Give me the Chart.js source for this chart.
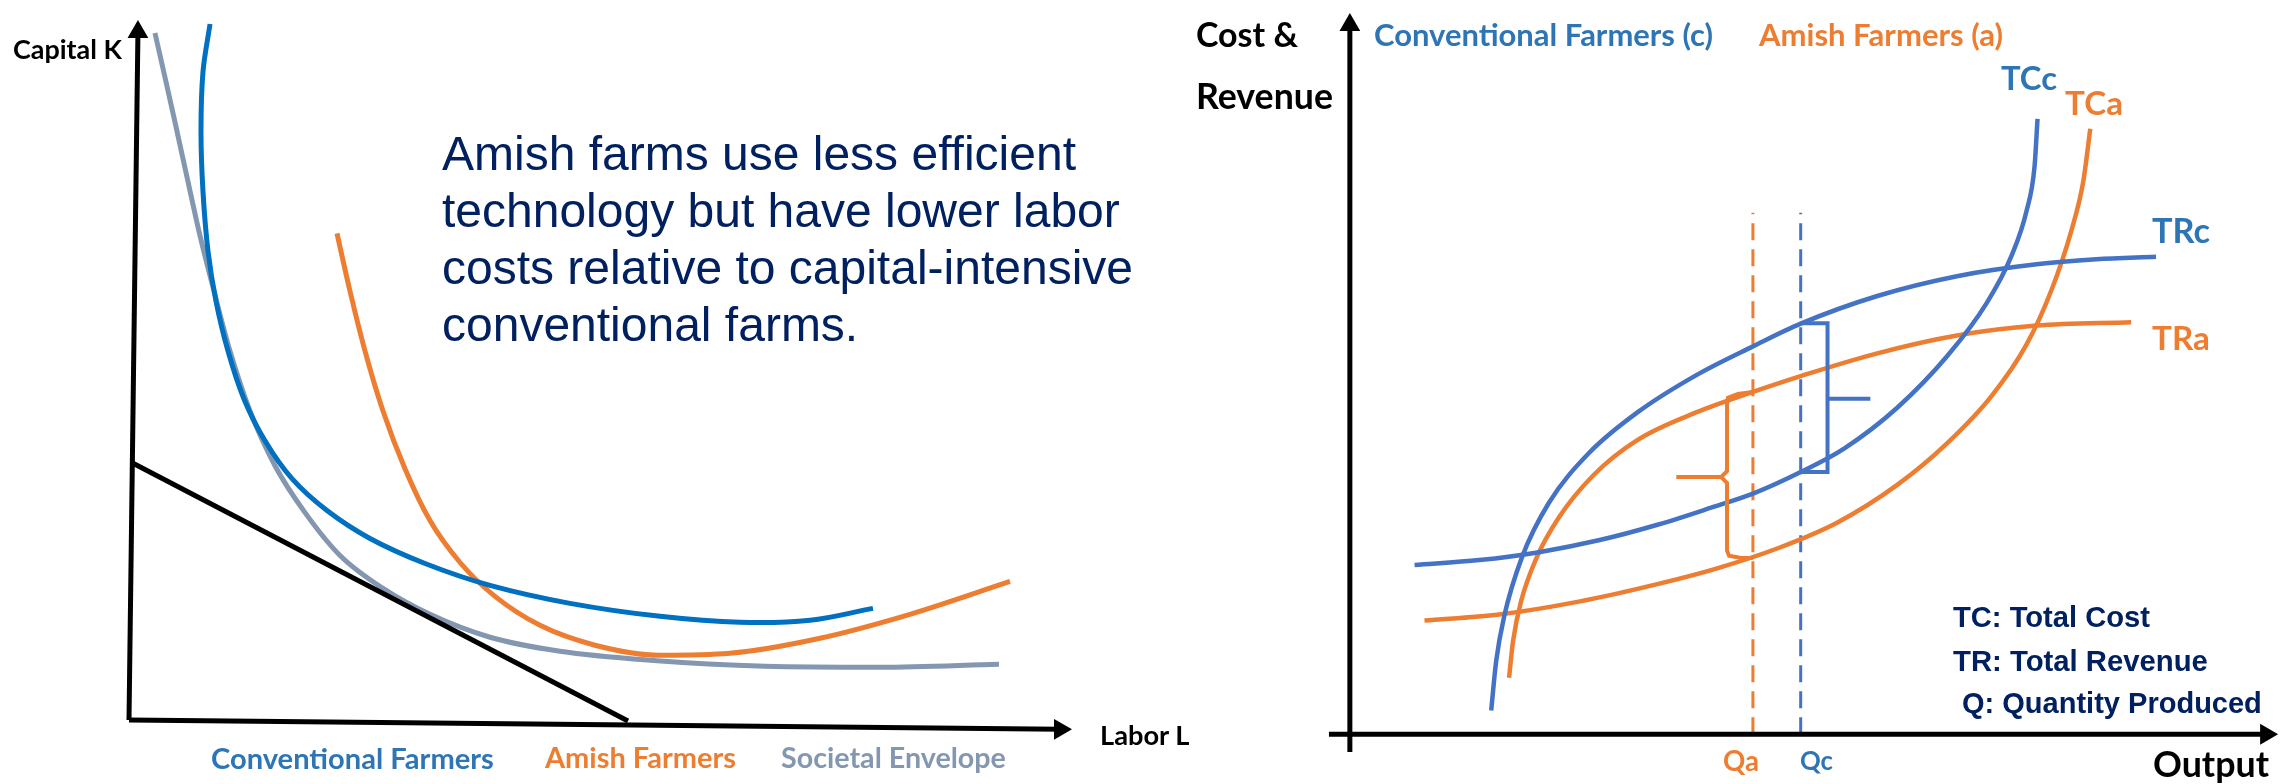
<!DOCTYPE html>
<html>
<head>
<meta charset="utf-8">
<script src="https://cdn.jsdelivr.net/npm/chart.js@4.4.1/dist/chart.umd.min.js"></script>
<style>
  html, body { margin: 0; padding: 0; background: #fff; }
  #stage { position: relative; width: 2292px; height: 784px; overflow: hidden; background: #fff; }
  #stage canvas { position: absolute; left: 0; top: 0; }
  .lbl { position: absolute; white-space: nowrap; line-height: 1; font-weight: 700; }
  .blurb { position: absolute; white-space: nowrap; font-family: "Liberation Sans", Arial, sans-serif;
           font-size: 48px; line-height: 57px; color: #002060; }
</style>
</head>
<body>
<div id="stage">
  <canvas id="isoChart" width="2292" height="784"></canvas>
  <canvas id="costChart" width="2292" height="784"></canvas>
</div>
<script>
// ---- left panel: isoquants (Labor L on x, Capital K on y), units 0..10
const isoConventional = [[0.852, 9.833], [0.778, 9.167], [0.757, 8.333], [0.778, 7.500], [0.831, 6.667],
  [0.915, 5.972], [1.041, 5.278], [1.209, 4.611], [1.430, 4.028], [1.714, 3.500], [2.082, 3.056],
  [2.534, 2.667], [3.113, 2.319], [3.796, 2.014], [4.637, 1.764], [5.584, 1.583], [6.425, 1.500],
  [7.161, 1.528], [7.823, 1.694]];
const isoSocietal = [[0.273, 9.708], [0.389, 9.028], [0.494, 8.403], [0.620, 7.639], [0.736, 6.944],
  [0.894, 6.111], [1.062, 5.278], [1.272, 4.444], [1.535, 3.681], [1.851, 3.028], [2.219, 2.431],
  [2.671, 1.972], [3.165, 1.611], [3.796, 1.292], [4.532, 1.097], [5.478, 0.972], [6.688, 0.889],
  [7.897, 0.875], [9.148, 0.917]];
const isoAmish = [[2.187, 6.917], [2.324, 6.111], [2.482, 5.278], [2.671, 4.444], [2.902, 3.639],
  [3.165, 2.917], [3.481, 2.333], [3.849, 1.861], [4.322, 1.458], [4.900, 1.181], [5.584, 1.042],
  [6.320, 1.069], [7.266, 1.278], [8.212, 1.611], [9.264, 2.069]];
const isoCostLine = [[0.032, 3.722], [5.247, 0.125]];
const isoAxisY = [[0, 0.139], [0.094, 9.72]];
const isoAxisX = [[0, 0.139], [9.79, 0.01]];

// ---- right panel: cost & revenue vs output, units 0..10
const trConventional = [[1.527, 0.329], [1.581, 1.014], [1.667, 1.630], [1.860, 2.452], [2.151, 3.205],
  [2.581, 3.890], [3.118, 4.466], [3.763, 4.986], [4.355, 5.370], [4.871, 5.685], [5.699, 6.068],
  [6.559, 6.342], [7.419, 6.507], [8.065, 6.575], [8.710, 6.610]];
const tcConventional = [[0.699, 2.342], [1.398, 2.411], [2.043, 2.521], [2.688, 2.685], [3.333, 2.904],
  [3.903, 3.137], [4.376, 3.342], [4.871, 3.630], [5.344, 3.959], [5.914, 4.521], [6.452, 5.233],
  [6.882, 5.973], [7.151, 6.630], [7.312, 7.247], [7.398, 7.863], [7.430, 8.521]];
const trAmish = [[1.720, 0.781], [1.763, 1.288], [1.849, 1.836], [2.011, 2.425], [2.258, 3.000],
  [2.634, 3.589], [3.118, 4.082], [3.763, 4.466], [4.355, 4.740], [4.871, 4.959], [5.699, 5.274],
  [6.559, 5.521], [7.419, 5.658], [8.441, 5.705]];
const tcAmish = [[0.806, 1.575], [1.613, 1.658], [2.473, 1.836], [3.333, 2.082], [3.978, 2.301],
  [4.624, 2.575], [5.269, 2.932], [5.914, 3.452], [6.452, 4.027], [6.935, 4.685], [7.312, 5.397],
  [7.581, 6.151], [7.796, 6.973], [7.925, 7.658], [8.000, 8.384]];
const qAmish = [[4.355, 0], [4.355, 7.219]];
const qConventional = [[4.871, 0], [4.871, 7.219]];
const profitBracketC = [[4.871, 5.692], [5.161, 5.692], [5.161, 3.630], [4.871, 3.630]];
const profitTickC = [[5.161, 4.644], [5.624, 4.644]];
const profitBraceA = [[4.355, 4.740], [4.194, 4.712], [4.086, 4.658], [4.075, 4.575], [4.075, 3.644],
  [4.011, 3.562], [4.075, 3.479], [4.075, 2.541], [4.097, 2.472], [4.215, 2.445], [4.355, 2.440]];
const profitTickA = [[4.011, 3.562], [3.527, 3.562]];
const costAxisY = [[0, -0.247], [0, 9.82]];
const costAxisX = [[-0.226, 0], [9.90, 0]];

// ---- text
const isoAxisNames = ['Capital K', 'Labor L'];
const isoLegend = ['Conventional Farmers', 'Amish Farmers', 'Societal Envelope'];
const blurbLines = ['Amish farms use less efficient', 'technology but have lower labor',
  'costs relative to capital-intensive', 'conventional farms.'];
const costAxisNames = ['Cost &', 'Revenue', 'Output'];
const costLegend = ['Conventional Farmers (c)', 'Amish Farmers (a)'];
const curveNames = ['TCc', 'TCa', 'TRc', 'TRa'];
const qNames = ['Qa', 'Qc'];
const notes = ['TC: Total Cost', 'TR: Total Revenue', 'Q: Quantity Produced'];

const BLUE_L = '#0070C0', BLUE_R = '#4472C4', BLUE_T = '#2E75B6';
const ORANGE = '#ED7D31', GREY = '#8497B0', NAVY = '#002060';
const W = 2292, H = 784;

function pts(arr) { return arr.map(([x, y]) => ({ x, y })); }

// smooth curve; x-monotone ones use monotone cubic, the rest a plain tension spline
function curve(arr, color, width, monotone) {
  const ds = { data: pts(arr), borderColor: color, borderWidth: width, pointRadius: 0,
               fill: false, clip: false, borderCapStyle: 'butt' };
  if (monotone) ds.cubicInterpolationMode = 'monotone';
  else ds.tension = 0.35;
  return ds;
}
function straight(arr, color, width, dash) {
  return { data: pts(arr), borderColor: color, borderWidth: width, pointRadius: 0,
           tension: 0, fill: false, clip: false, borderDash: dash || [],
           borderJoinStyle: 'miter' };
}
function axis(arr, rot) {
  const last = arr.length - 1;
  return { data: pts(arr), borderColor: '#000', borderWidth: 5, tension: 0, fill: false, clip: false,
           pointStyle: 'triangle', pointRotation: rot, pointBorderWidth: 0,
           pointBackgroundColor: '#000', pointRadius: c => c.dataIndex === last ? 12 : 0 };
}

// origin pixel + pixels per unit -> padding so the hidden scales land there
function frame(ox, oy, ux, uy, xMin, xMax, yMin, yMax) {
  const left = ox + xMin * ux, right = ox + xMax * ux;
  const top = oy - yMax * uy, bottom = oy - yMin * uy;
  return {
    padding: { left: left, right: W - right, top: top, bottom: H - bottom },
    scales: {
      x: { type: 'linear', min: xMin, max: xMax, display: false },
      y: { type: 'linear', min: yMin, max: yMax, display: false }
    }
  };
}

function makeChart(id, datasets, f) {
  return new Chart(document.getElementById(id), {
    type: 'line',
    data: { datasets: datasets },
    options: {
      responsive: false, animation: false, events: [],
      layout: { padding: f.padding },
      scales: f.scales,
      plugins: { legend: { display: false }, tooltip: { enabled: false } }
    }
  });
}

makeChart('isoChart', [
  axis(isoAxisY, 0),
  axis(isoAxisX, 90),
  straight(isoCostLine, '#000', 5),
  curve(isoConventional, BLUE_L, 5, false),
  curve(isoAmish, ORANGE, 5, true),
  curve(isoSocietal, GREY, 5, true)
], frame(129, 730, 95.1, 72, 0, 10, 0, 10));

makeChart('costChart', [
  axis(costAxisY, 0),
  axis(costAxisX, 90),
  straight(profitBracketC, BLUE_R, 4),
  straight(profitTickC, BLUE_R, 4),
  straight(profitBraceA, ORANGE, 4),
  straight(profitTickA, ORANGE, 4),
  curve(trConventional, BLUE_R, 4.5, true),
  curve(tcConventional, BLUE_R, 4.5, true),
  curve(trAmish, ORANGE, 4.5, true),
  curve(tcAmish, ORANGE, 4.5, true),
  straight(qAmish, ORANGE, 3, [17, 9]),
  straight(qConventional, BLUE_R, 3, [17, 9])
], frame(1350, 734, 93, 73, -0.3, 10.05, -0.3, 10));

// ---- labels as real text, font size fitted to the measured width
const stage = document.getElementById('stage');
const mctx = document.createElement('canvas').getContext('2d');
const FAM = { lato: 'Lato, "Open Sans", sans-serif', arial: '"Liberation Sans", Arial, sans-serif' };
const CAP_MID = { lato: 0.529, arial: 0.489 };

function label(text, x, w, cy, color, fam) {
  fam = fam || 'lato';
  mctx.font = '700 100px ' + FAM[fam];
  const size = 100 * w / mctx.measureText(text).width;
  const el = document.createElement('div');
  el.className = 'lbl';
  el.textContent = text;
  el.style.fontFamily = FAM[fam];
  el.style.fontSize = size.toFixed(2) + 'px';
  el.style.color = color;
  el.style.left = x + 'px';
  el.style.top = (cy - CAP_MID[fam] * size).toFixed(1) + 'px';
  stage.appendChild(el);
}

label(isoAxisNames[0], 13, 109, 50, '#000');
label(isoAxisNames[1], 1100, 90, 735, '#000');
label(isoLegend[0], 211, 283, 758, BLUE_T);
label(isoLegend[1], 545, 191, 758, ORANGE);
label(isoLegend[2], 781, 225, 758, GREY);

const blurb = document.createElement('div');
blurb.className = 'blurb';
blurb.innerHTML = blurbLines.join('<br>');
blurb.style.left = '442px';
blurb.style.top = '125px';
stage.appendChild(blurb);

label(costAxisNames[0], 1196, 102, 35, '#000');
label(costAxisNames[1], 1196, 137, 97, '#000');
label(costAxisNames[2], 2153, 116, 765, '#000');
label(costLegend[0], 1374, 339, 35, BLUE_T);
label(costLegend[1], 1759, 244, 35, ORANGE);
label(curveNames[0], 2001, 56, 79, BLUE_T);
label(curveNames[1], 2065, 58, 104, ORANGE);
label(curveNames[2], 2152, 58, 231, BLUE_T);
label(curveNames[3], 2152, 58, 339, ORANGE);
label(qNames[0], 1723, 36, 762, ORANGE);
label(qNames[1], 1800, 33, 762, BLUE_T);
label(notes[0], 1953, 197, 617, NAVY, 'arial');
label(notes[1], 1953, 255, 660, NAVY, 'arial');
label(notes[2], 1962, 300, 703, NAVY, 'arial');
</script>
</body>
</html>
